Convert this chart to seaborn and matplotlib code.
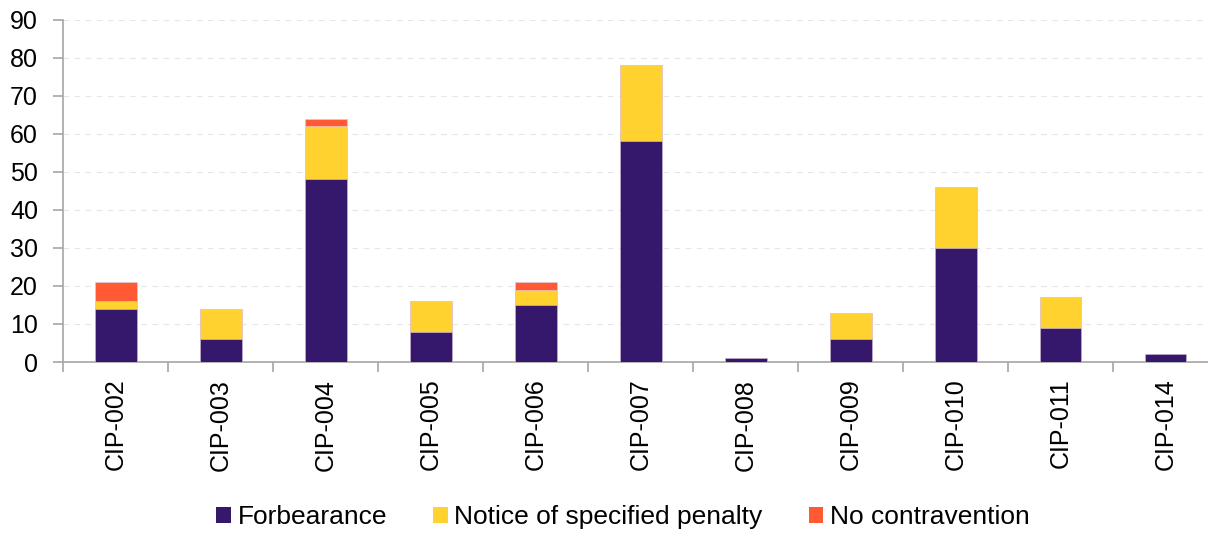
import numpy as np
import pandas as pd
import seaborn as sns
import matplotlib
matplotlib.use("Agg")
import matplotlib.pyplot as plt
from matplotlib.patches import Patch
from matplotlib.ticker import FixedLocator, NullFormatter

# Enforcement outcomes per CIP standard
standards = ["CIP-002", "CIP-003", "CIP-004", "CIP-005", "CIP-006", "CIP-007",
             "CIP-008", "CIP-009", "CIP-010", "CIP-011", "CIP-014"]
forbearance = [14, 6, 48, 8, 15, 58, 1, 6, 30, 9, 2]
notice_penalty = [2, 8, 14, 8, 4, 20, 0, 7, 16, 8, 0]
no_contravention = [5, 0, 2, 0, 2, 0, 0, 0, 0, 0, 0]

series_names = ["Forbearance", "Notice of specified penalty", "No contravention"]
colors = ["#35176B", "#FFD230", "#FF5A33"]

sns.set_theme(style="white")
plt.rcParams["font.family"] = ["Liberation Sans", "DejaVu Sans"]
plt.rcParams["text.color"] = "black"
plt.rcParams["xtick.labelcolor"] = "black"
plt.rcParams["ytick.labelcolor"] = "black"

# Cumulative heights so each layer can be drawn over the one above it
df = pd.DataFrame({
    "standard": standards,
    "s1": np.array(forbearance),
    "s2": np.array(forbearance) + np.array(notice_penalty),
    "s3": np.array(forbearance) + np.array(notice_penalty) + np.array(no_contravention),
})

fig = plt.figure(figsize=(12.08, 5.33), dpi=100)
ax = fig.add_axes([63 / 1208, 1 - 362 / 533, 1155 / 1208, (362 - 19.7) / 533])

for col, color in zip(["s3", "s2", "s1"], colors[::-1]):
    sns.barplot(data=df, x="standard", y=col, color=color, width=0.4,
                edgecolor="#D8CCEA", linewidth=0.4, saturation=1, ax=ax, zorder=3)

ax.set_xlim(-0.5, len(standards) - 0.5)
ax.set_ylim(0, 90)
ax.set_yticks(range(0, 91, 10))
ax.set_xlabel("")
ax.set_ylabel("")

# Horizontal dashed gridlines
ax.yaxis.grid(True, color="#E6E6E6", linestyle=(0, (5, 5)), linewidth=0.8, zorder=0)
ax.xaxis.grid(False)

for side in ["top", "right"]:
    ax.spines[side].set_visible(False)
for side in ["left", "bottom"]:
    ax.spines[side].set_color("#A6A6A6")
    ax.spines[side].set_linewidth(1.2)

# Category labels centred, tick marks on category boundaries
ax.set_xticks(range(len(standards)))
ax.set_xticklabels(standards, rotation=90, fontsize=18)
ax.tick_params(axis="x", which="major", length=0, pad=12)
ax.xaxis.set_minor_locator(FixedLocator(np.arange(-0.5, len(standards), 1.0)))
ax.xaxis.set_minor_formatter(NullFormatter())
ax.tick_params(axis="x", which="minor", length=7, width=1.2, color="#A6A6A6",
               direction="out", bottom=True)
ax.tick_params(axis="y", length=7, width=1.2, color="#A6A6A6", direction="out",
               labelsize=18, pad=11, left=True)

handles = [Patch(facecolor=c, edgecolor="none") for c in colors]
fig.legend(handles, series_names, loc="center", bbox_to_anchor=(623 / 1208, 1 - 517 / 533),
           ncol=3, frameon=False, fontsize=19, handlelength=0.55, handleheight=0.55,
           handletextpad=0.25, columnspacing=1.75)

fig.savefig("out.png", dpi=100)
